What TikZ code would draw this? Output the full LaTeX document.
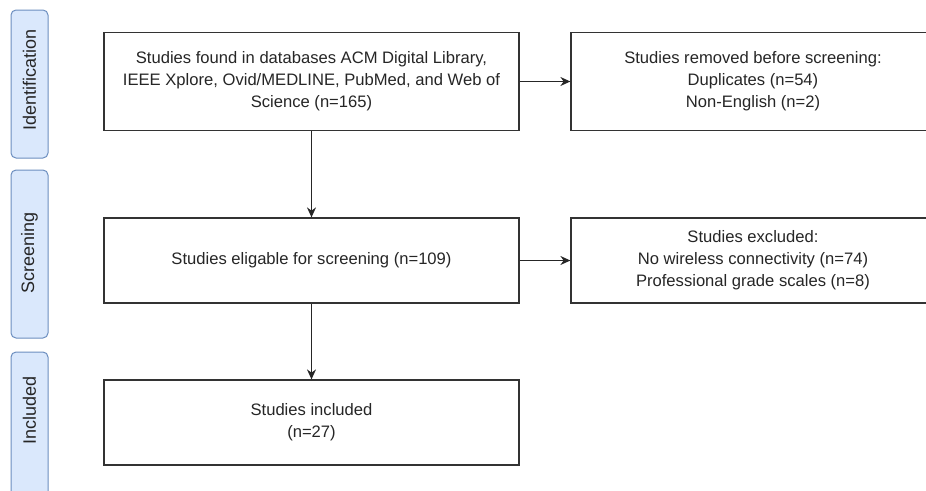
\documentclass[tikz,border=0pt]{standalone}
\usepackage{fontspec}
\setmainfont{Liberation Sans}
\usetikzlibrary{arrows.meta}
\definecolor{lanefill}{HTML}{DAE8FC}
\definecolor{laneedge}{HTML}{6C8EBF}
\tikzset{
  stepbox/.style={draw=black!80, line width=1.2pt, fill=white, align=center,
    text=black!85, font=\fontsize{16.6}{22}\selectfont},
  lane/.style={draw=laneedge, fill=lanefill, rounded corners=5pt, line width=1pt,
    rotate=90, minimum height=37pt, inner sep=0pt},
  lanetext/.style={rotate=90, text=black!85, font=\fontsize{18}{20}\selectfont},
  flow/.style={draw=black!85, line width=1.2pt, -{Stealth[length=10pt,width=9pt]}}
}
\begin{document}
\begin{tikzpicture}[x=1pt, y=-1pt]
                \useasboundingbox (0,0) rectangle (926,490);
                \clip (0,0) rectangle (926,490);

                \node [lane, minimum width=148pt] (identification) at (29.5,84) {};
                \node [lane, minimum width=168pt] (screening) at (29.5,254) {};
                \node [lane, minimum width=150pt] (included) at (29.5,427) {};
                \node [lanetext] (identificationtext) at (29.5,80) {Identification};
                \node [lanetext] (screeningtext) at (29.5,253) {Screening};
                \node [lanetext] (includedtext) at (29.5,410) {Included};

                \node [stepbox, minimum width=415pt, minimum height=98pt] (found) at (311.5,81.5)
                  {Studies found in databases ACM Digital Library,\\IEEE Xplore, Ovid/MEDLINE, PubMed, and Web of\\Science (n=165)};
                \node [stepbox, minimum width=364pt, minimum height=98pt] (removed) at (753,81.5)
                  {Studies removed before screening:\\Duplicates (n=54)\\Non-English (n=2)};
                \node [stepbox, minimum width=415pt, minimum height=85pt] (eligible) at (311.5,260.5)
                  {Studies eligable for screening (n=109)};
                \node [stepbox, minimum width=364pt, minimum height=85pt] (excluded) at (753,260.5)
                  {Studies excluded:\\No wireless connectivity (n=74)\\Professional grade scales (n=8)};
                \node [stepbox, minimum width=415pt, minimum height=85pt] (studies) at (311.5,422.5)
                  {Studies included\\(n=27)};

                \draw [flow] (found) -- (removed);
                \draw [flow] (found) -- (eligible);
                \draw [flow] (eligible) -- (excluded);
                \draw [flow] (eligible) -- (studies);
\end{tikzpicture}
\end{document}
